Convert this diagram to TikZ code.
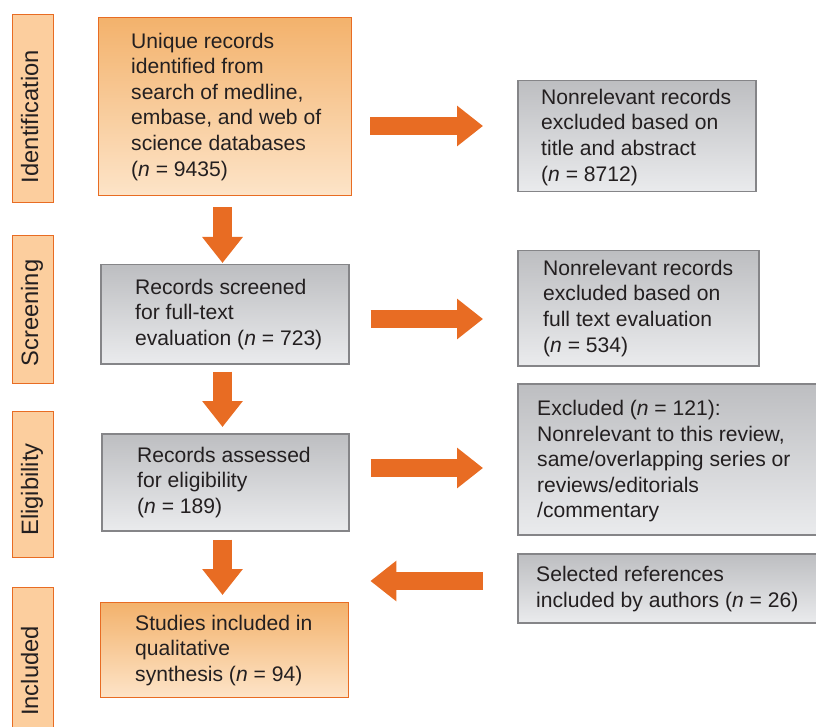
\documentclass[tikz,border=0pt]{standalone}
\usepackage{fontspec}
\setmainfont{Liberation Sans}
\usetikzlibrary{arrows.meta,calc}
\definecolor{orng}{RGB}{232,108,35}
\definecolor{otop}{RGB}{243,178,108}
\definecolor{obot}{RGB}{253,228,200}
\definecolor{lbl}{RGB}{252,206,158}
\definecolor{gtop}{RGB}{189,190,193}
\definecolor{gbot}{RGB}{234,235,237}
\definecolor{gline}{RGB}{133,133,136}
\definecolor{txt}{RGB}{35,31,32}
\tikzset{
  obox/.style={draw=orng, line width=1.4pt, top color=otop, bottom color=obot, inner sep=0pt, anchor=north west},
  gbox/.style={draw=gline, line width=1.5pt, top color=gtop, bottom color=gbot, inner sep=0pt, anchor=north west},
  lbox/.style={draw=orng, line width=1.4pt, fill=lbl, inner sep=0pt, anchor=north west},
  btxt/.style={anchor=west, align=left, inner sep=0pt, text=txt, font=\fontsize{21.1}{25.6}\selectfont},
  ltxt/.style={anchor=base, rotate=90, inner sep=0pt, text=txt, font=\fontsize{23.7}{28}\selectfont},
  blk/.style={draw=orng, line width=18.5pt, -{Triangle[length=26pt,width=39pt]}},
}
\begin{document}
\begin{tikzpicture}[x=1pt,y=-1pt]
\useasboundingbox (0,0) rectangle (816,727);
\clip (0,0) rectangle (816,727);
% side labels
\node[lbox, minimum width=41pt, minimum height=188pt] (L1) at (12,14) {};
\node[lbox, minimum width=41pt, minimum height=148pt] (L2) at (12,235) {};
\node[lbox, minimum width=41pt, minimum height=146pt] (L3) at (12,411) {};
\node[lbox, minimum width=41pt, minimum height=160pt] (L4) at (12,587) {};
\node[ltxt] (L1t) at (38,116.5) {Identification};
\node[ltxt] (L2t) at (38,313) {Screening};
\node[ltxt] (L3t) at (38,489.5) {Eligibility};
\node[ltxt] (L4t) at (38,671) {Included};
% main column
\node[obox, minimum width=253pt, minimum height=178pt] (b1) at (98,17) {};
\node[gbox, minimum width=248pt, minimum height=99pt] (b3) at (100,264) {};
\node[gbox, minimum width=247pt, minimum height=97pt] (b4) at (101,433) {};
\node[obox, minimum width=248pt, minimum height=95pt] (b5) at (100,602) {};
% right column
\node[gbox, minimum width=238pt, minimum height=111pt] (r1) at (517,80) {};
\node[gbox, minimum width=241pt, minimum height=115pt] (r2) at (517,250) {};
\node[gbox, minimum width=320pt, minimum height=151pt] (r3) at (517,383) {};
\node[gbox, minimum width=320pt, minimum height=69pt] (r4) at (517,553) {};
% texts
\node[btxt] (b1t) at ($(b1.west)+(33,0)$) {Unique records\\identified from\\search of medline,\\embase, and web of\\science databases\\(\emph{n} = 9435)};
\node[btxt] (b3t) at ($(b3.west)+(35,0)$) {Records screened\\for full-text\\evaluation (\emph{n} = 723)};
\node[btxt] (b4t) at ($(b4.west)+(36,0)$) {Records assessed\\for eligibility\\(\emph{n} = 189)};
\node[btxt] (b5t) at ($(b5.west)+(35,0)$) {Studies included in\\qualitative\\synthesis (\emph{n} = 94)};
\node[btxt] (r1t) at ($(r1.west)+(24,1)$) {Nonrelevant records\\excluded based on\\title and abstract\\(\emph{n} = 8712)};
\node[btxt] (r2t) at ($(r2.west)+(26,0)$) {Nonrelevant records\\excluded based on\\full text evaluation\\(\emph{n} = 534)};
\node[btxt] (r3t) at ($(r3.west)+(20,2)$) {Excluded (\emph{n} = 121):\\Nonrelevant to this review,\\same/overlapping series or\\reviews/editorials\\/commentary};
\node[btxt] (r4t) at ($(r4.west)+(19,1)$) {Selected references\\included by authors (\emph{n} = 26)};
% arrow guide coordinates
\coordinate (dx) at (222.5,0);
\coordinate (h1) at (0,126);
\coordinate (h2) at (0,319);
\coordinate (h3) at (0,468);
\coordinate (h4) at (0,581);
% down arrows
\draw[blk] ($(b1.south -| dx)+(0,11)$) -- ($(b3.north -| dx)+(0,-1)$);
\draw[blk] ($(b3.south -| dx)+(0,7)$) -- ($(b4.north -| dx)+(0,-6)$);
\draw[blk] ($(b4.south -| dx)+(0,8)$) -- ($(b5.north -| dx)+(0,-7)$);
% horizontal arrows
\draw[blk] ($(b1.east |- h1)+(18,0)$) -- ($(r1.west |- h1)+(-34,0)$);
\draw[blk] ($(b3.east |- h2)+(21,0)$) -- ($(r2.west |- h2)+(-34,0)$);
\draw[blk] ($(b4.east |- h3)+(21,0)$) -- ($(r3.west |- h3)+(-34,0)$);
\draw[blk] ($(r4.west |- h4)+(-34,0)$) -- ($(b5.east |- h4)+(21,0)$);
\end{tikzpicture}
\end{document}
